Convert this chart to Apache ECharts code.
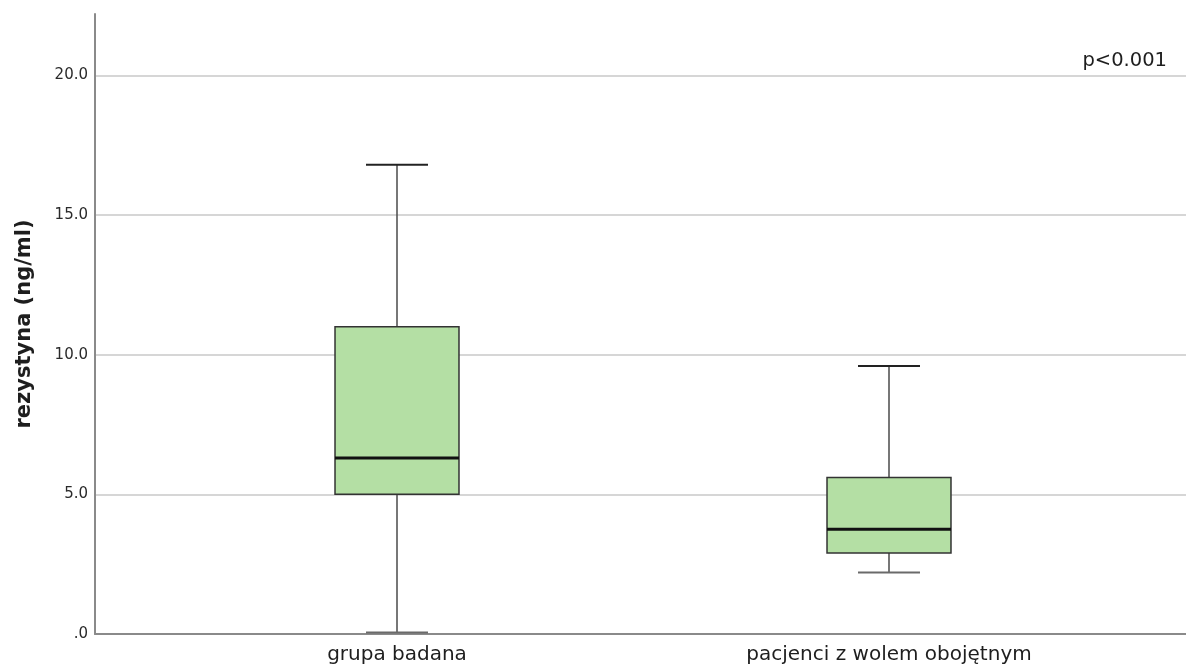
<!DOCTYPE html>
<html>
<head>
<meta charset="utf-8">
<title>rezystyna (ng/ml)</title>
<script src="https://cdn.jsdelivr.net/npm/echarts@6/dist/echarts.min.js"></script>
<style>
  html, body { margin: 0; padding: 0; background: #ffffff; }
  #chart { width: 1186px; height: 669px; }
</style>
</head>
<body>
<div id="chart"></div>
<script>
// Groups and their box-plot statistics (ng/ml)
const categories = ['grupa badana', 'pacjenci z wolem obojętnym'];
const lowerWhisker = [0.05, 2.2];
const q1 = [5.0, 2.9];
const median = [6.3, 3.75];
const q3 = [11.0, 5.6];
const upperWhisker = [16.8, 9.6];

const yMin = 0;
const yMax = 22.2;
const yInterval = 5;
const pLabel = 'p<0.001';
const yTitle = 'rezystyna (ng/ml)';

const boxData = categories.map((c, i) => [i, lowerWhisker[i], q1[i], median[i], q3[i], upperWhisker[i]]);

const FONT = 'DejaVu Sans';

function renderBox(params, api) {
  const idx = api.value(0);
  const band = api.size([1, 0])[0];
  const half = band * 0.126;
  const capHalf = half / 2;
  const pLow = api.coord([idx, api.value(1)]);
  const pQ1 = api.coord([idx, api.value(2)]);
  const pMed = api.coord([idx, api.value(3)]);
  const pQ3 = api.coord([idx, api.value(4)]);
  const pHigh = api.coord([idx, api.value(5)]);
  const x = pMed[0];
  const whisker = { stroke: '#4a4a4a', lineWidth: 1.5 };
  const cap = { stroke: '#222', lineWidth: 2 };
  return {
    type: 'group',
    children: [
      { type: 'line', shape: { x1: x, y1: pHigh[1], x2: x, y2: pQ3[1] }, style: whisker },
      { type: 'line', shape: { x1: x, y1: pQ1[1], x2: x, y2: pLow[1] }, style: whisker },
      { type: 'line', shape: { x1: x - capHalf, y1: pHigh[1], x2: x + capHalf, y2: pHigh[1] }, style: cap },
      { type: 'line', shape: { x1: x - capHalf, y1: pLow[1], x2: x + capHalf, y2: pLow[1] }, style: Object.assign({}, cap, { stroke: '#6a6a6a' }) },
      { type: 'rect', shape: { x: x - half, y: pQ3[1], width: half * 2, height: pQ1[1] - pQ3[1] },
        style: { fill: '#b4dfa4', stroke: '#333333', lineWidth: 1.5 } },
      { type: 'line', shape: { x1: x - half, y1: pMed[1], x2: x + half, y2: pMed[1] },
        style: { stroke: '#111', lineWidth: 3 } }
    ]
  };
}

const chart = echarts.init(document.getElementById('chart'), null, { renderer: 'canvas' });
chart.setOption({
  backgroundColor: '#ffffff',
  animation: false,
  grid: [
    { left: 95, right: 0, top: 14, bottom: 35 },
    { left: 151, right: 51, top: 14, bottom: 35 }
  ],
  xAxis: [
    {
      gridIndex: 0, type: 'value', min: 0, max: 1,
      axisLine: { show: true, lineStyle: { color: '#8a8a8a', width: 2 } },
      axisTick: { show: false }, axisLabel: { show: false }, splitLine: { show: false }
    },
    {
      gridIndex: 1, type: 'category', data: categories,
      axisLine: { show: false }, axisTick: { show: false }, splitLine: { show: false },
      axisLabel: { margin: 11, fontFamily: FONT, fontSize: 20, color: '#1e1e1e' }
    }
  ],
  yAxis: [
    {
      gridIndex: 0, type: 'value', min: yMin, max: yMax, interval: yInterval,
      name: yTitle, nameLocation: 'middle', nameGap: 60,
      nameTextStyle: { fontFamily: FONT, fontSize: 21, fontWeight: 'bold', color: '#1e1e1e' },
      axisLine: { show: true, lineStyle: { color: '#8a8a8a', width: 2 } },
      axisTick: { show: false },
      axisLabel: {
        margin: 7, fontFamily: FONT, fontSize: 15, color: '#2a2a2a',
        padding: [4, 0, 0, 0],
        formatter: v => (v % yInterval !== 0 ? '' : (v === 0 ? '.0' : v.toFixed(1)))
      },
      splitLine: { show: true, showMaxLine: false, lineStyle: { color: '#c8c8c8', width: 1.5 } }
    },
    {
      gridIndex: 1, type: 'value', min: yMin, max: yMax, show: false
    }
  ],
  graphic: [
    {
      type: 'text', right: 19, top: 51,
      style: { text: pLabel, font: '19.5px "DejaVu Sans"', fill: '#1e1e1e' }
    }
  ],
  series: [
    {
      type: 'custom',
      xAxisIndex: 1, yAxisIndex: 1,
      renderItem: renderBox,
      encode: { x: 0, y: [1, 2, 3, 4, 5] },
      data: boxData,
      z: 5
    }
  ]
});
</script>
</body>
</html>
